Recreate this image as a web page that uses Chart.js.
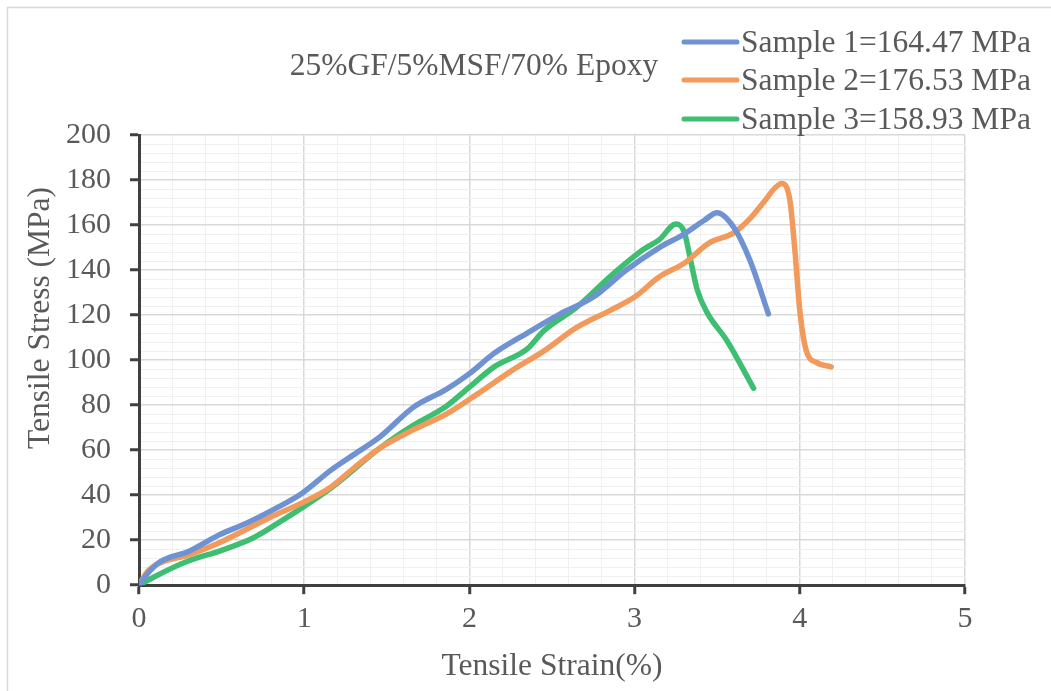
<!DOCTYPE html>
<html>
<head>
<meta charset="utf-8">
<script src="https://cdn.jsdelivr.net/npm/chart.js@4.4.1/dist/chart.umd.min.js"></script>
<style>
  body { margin: 0; background: #fff; }
  #wrap { width: 1051px; height: 691px; }
</style>
</head>
<body>
<div id="wrap"><canvas id="myChart" width="1051" height="691"></canvas></div>
<script>
var title = "25%GF/5%MSF/70% Epoxy";
var yTitle = "Tensile Stress (MPa)";
var xTitle = "Tensile Strain(%)";
var labels = ["Sample 1=164.47 MPa", "Sample 2=176.53 MPa", "Sample 3=158.93 MPa"];
var colors = ["#6F92D3", "#F2995C", "#3DBE70"];

var s1x = [0, 0.05, 0.13, 0.3, 0.49, 0.65, 0.85, 0.99, 1.16, 1.3, 1.46, 1.66, 1.86, 2.0, 2.15, 2.35, 2.55, 2.75, 2.95, 3.15, 3.3, 3.42, 3.5, 3.6, 3.7, 3.81];
var s1y = [0, 5, 10.5, 15, 22.5, 27.5, 35, 41, 51, 58, 66, 79, 87, 94, 103, 112, 120.5, 128, 140, 150, 156, 162, 165.5, 159, 144, 120.5];

var s2x = [0, 0.05, 0.13, 0.3, 0.49, 0.79, 1.0, 1.16, 1.3, 1.46, 1.66, 1.86, 2.05, 2.25, 2.45, 2.65, 2.85, 3.0, 3.15, 3.3, 3.45, 3.6, 3.7, 3.78, 3.85, 3.89, 3.94, 3.97, 4.0, 4.04, 4.1, 4.19];
var s2y = [0, 6, 10, 13.5, 19, 30, 37, 43.5, 52, 61, 69, 76, 85, 95, 104, 114.5, 122, 128, 137, 143, 152, 156.5, 163, 170, 176.5, 178.5, 171, 149, 122, 104, 99, 97];

var s3x = [0, 0.1, 0.29, 0.5, 0.69, 0.85, 1.0, 1.16, 1.46, 1.66, 1.86, 2.0, 2.15, 2.35, 2.45, 2.65, 2.85, 3.05, 3.15, 3.25, 3.3, 3.34, 3.38, 3.44, 3.56, 3.72];
var s3y = [0, 4, 10.5, 15.5, 21, 28, 35, 43, 61, 71, 79.5, 88, 97, 105, 113, 123.5, 137, 149, 153.5, 160.5, 157, 144, 131, 121, 108.5, 87.5];

function pts(xs, ys) {
  var out = [];
  for (var i = 0; i < xs.length; i++) out.push({x: xs[i], y: ys[i]});
  return out;
}

function isMajorX(v) { return Math.abs(v - Math.round(v)) < 1e-6; }
function isMajorY(v) { return Math.abs(v / 20 - Math.round(v / 20)) < 1e-6; }

Chart.defaults.font.family = "'Liberation Serif', 'Times New Roman', serif";
Chart.defaults.color = "#595959";

// title, legend, y axis title and outer frame drawn by hand
var decor = {
  id: 'decor',
  afterDraw: function(chart) {
    var c = chart.ctx;
    c.save();
    c.strokeStyle = "#d9d9d9";
    c.lineWidth = 1.5;
    c.strokeRect(7.5, 7.5, 1200, 1200);

    c.fillStyle = "#595959";
    c.font = "31.5px 'Liberation Serif'";
    c.textAlign = "center";
    c.textBaseline = "middle";
    c.fillText(title, 474, 67);

    // y title sits above the axis centre, as in the original
    c.save();
    c.translate(41, 318);
    c.rotate(-Math.PI / 2);
    c.fillText(yTitle, 0, 0);
    c.restore();

    c.textAlign = "left";
    var rows = [42, 80, 119];
    chart.data.datasets.forEach(function(ds, i) {
      c.strokeStyle = ds.borderColor;
      c.lineWidth = 5;
      c.lineCap = "round";
      c.beginPath();
      c.moveTo(684, rows[i]);
      c.lineTo(737, rows[i]);
      c.stroke();
      c.fillStyle = "#595959";
      c.fillText(ds.label, 741, rows[i] + 2);
    });
    c.restore();
  }
};

var ctx = document.getElementById("myChart").getContext('2d');
var myChart = new Chart(ctx, {
  type: 'line',
  data: {
    datasets: [
      {label: labels[0], data: pts(s1x, s1y), borderColor: colors[0]},
      {label: labels[1], data: pts(s2x, s2y), borderColor: colors[1]},
      {label: labels[2], data: pts(s3x, s3y), borderColor: colors[2]}
    ]
  },
  options: {
    responsive: false,
    animation: false,
    layout: { padding: {left: 47, right: 86, top: 135, bottom: 5} },
    elements: {
      point: { radius: 0 },
      line: { borderWidth: 5.5, cubicInterpolationMode: 'monotone', borderCapStyle: 'round', borderJoinStyle: 'round' }
    },
    plugins: { legend: { display: false }, tooltip: { enabled: false } },
    scales: {
      x: {
        type: 'linear',
        min: 0, max: 5,
        ticks: {
          stepSize: 0.2, autoSkip: false, maxRotation: 0, padding: 7,
          font: { size: 30 },
          callback: function(v) { return isMajorX(v) ? Math.round(v) : ''; }
        },
        grid: {
          color: function(c) { return isMajorX(c.tick.value) ? "#d9d9d9" : "#f0f0f0"; },
          lineWidth: function(c) { return isMajorX(c.tick.value) ? 1.5 : 1; },
          tickColor: function(c) { return isMajorX(c.tick.value) ? "#404040" : "rgba(0,0,0,0)"; },
          tickWidth: 3, tickLength: 9
        },
        border: { color: "#404040", width: 3 },
        title: { display: true, text: xTitle, font: { size: 31.5 }, padding: {top: 4, bottom: 0} }
      },
      y: {
        min: 0, max: 200,
        ticks: {
          stepSize: 4, autoSkip: false, padding: 19,
          font: { size: 30 },
          callback: function(v) { return isMajorY(v) ? Math.round(v) : ''; }
        },
        grid: {
          color: function(c) { return isMajorY(c.tick.value) ? "#d9d9d9" : "#f0f0f0"; },
          lineWidth: function(c) { return isMajorY(c.tick.value) ? 1.5 : 1; },
          tickColor: function(c) { return isMajorY(c.tick.value) ? "#404040" : "rgba(0,0,0,0)"; },
          tickWidth: 3, tickLength: 9
        },
        border: { color: "#404040", width: 3 }
      }
    }
  },
  plugins: [decor]
});
</script>
</body>
</html>
